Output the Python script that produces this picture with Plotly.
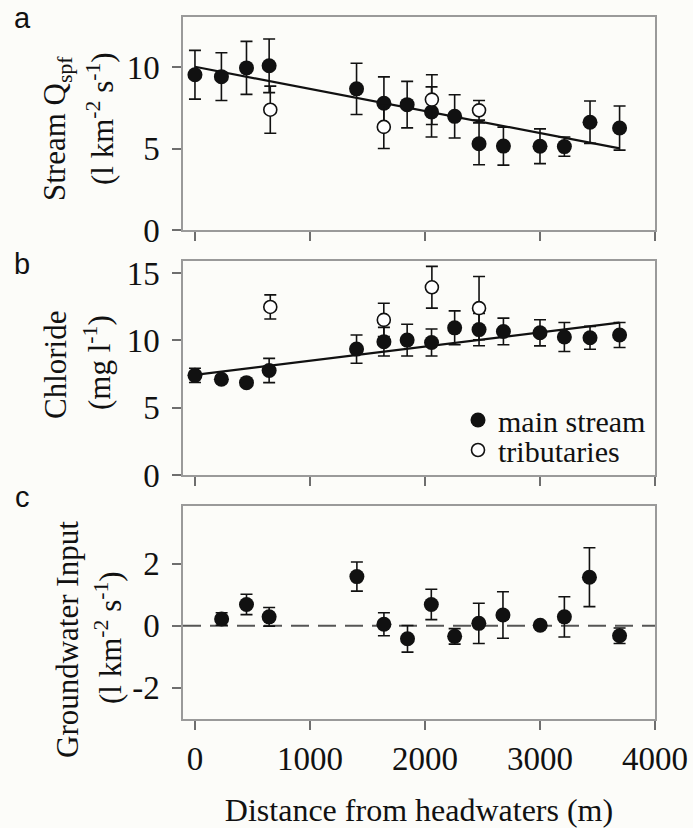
import numpy as np
import plotly.graph_objects as go

# ---------------- data ----------------
distance_main = [0, 230, 448, 645, 1405, 1643, 1845, 2057, 2258, 2470, 2682, 3000, 3212, 3435, 3692]
distance_trib = [655, 1642, 2060, 2470]
distance_gw = [232, 448, 645, 1408, 1643, 1848, 2055, 2258, 2468, 2678, 3002, 3212, 3430, 3692]

qspf_main = [9.55, 9.43, 9.97, 10.1, 8.68, 7.8, 7.71, 7.26, 6.99, 5.3, 5.16, 5.15, 5.13, 6.63, 6.27]
qspf_main_err = [1.5, 1.47, 1.63, 1.65, 1.58, 1.62, 1.43, 1.54, 1.33, 1.29, 1.17, 1.07, 0.59, 1.3, 1.36]
qspf_trib = [7.4, 6.34, 8.02, 7.36]
qspf_trib_err = [1.45, 1.33, 1.53, 0.6]

chloride_main = [7.4, 7.11, 6.86, 7.76, 9.35, 9.9, 10.02, 9.84, 10.93, 10.8, 10.66, 10.56, 10.25, 10.19, 10.4]
chloride_main_err = [0.53, 0.25, 0.2, 0.9, 1.05, 1.06, 1.18, 1.0, 1.26, 1.2, 0.99, 0.97, 1.08, 0.85, 0.93]
chloride_trib = [12.48, 11.52, 13.94, 12.39]
chloride_trib_err = [0.9, 1.24, 1.55, 2.35]

groundwater = [0.22, 0.69, 0.29, 1.59, 0.05, -0.42, 0.69, -0.34, 0.08, 0.35, 0.02, 0.29, 1.57, -0.32]
groundwater_err = [0.2, 0.33, 0.3, 0.47, 0.37, 0.43, 0.49, 0.25, 0.65, 0.75, 0.1, 0.65, 0.95, 0.25]

x_ticks = [0, 1000, 2000, 3000, 4000]
ya_ticks = [0, 5, 10]
yb_ticks = [0, 5, 10, 15]
yc_ticks = [-2, 0, 2]
yc_ticktext = ["-2", "0", "2"]

# ---------------- layout constants ----------------
W, H = 693, 828
ML, MR, MT, MB = 183, 38, 17, 109
PW, PH = W - ML - MR, H - MT - MB


def px_x(p):
    return (p - ML) / PW


def px_y(p):
    return (H - MB - p) / PH


SERIF = "Liberation Serif, Times New Roman, serif"
SANS = "Liberation Sans, Arial, sans-serif"
BLACK = "#111111"
FRAME = "#9a9a9a"
TICKC = "#6e6e6e"

fig = go.Figure()


def add_panel(xa, ya, xs, main_y, main_err, trib_y=None, trib_err=None, fit=False, legend=False):
    if fit:
        coef = np.polyfit(xs, main_y, 1)
        xf = np.array([xs[0], xs[-1]])
        fig.add_trace(go.Scatter(x=xf, y=np.polyval(coef, xf), mode="lines",
                                 line=dict(color=BLACK, width=2.2), showlegend=False,
                                 xaxis=xa, yaxis=ya, hoverinfo="skip"))
    fig.add_trace(go.Scatter(
        x=xs, y=main_y, mode="markers", name="main stream", showlegend=legend,
        legend="legend",
        marker=dict(color=BLACK, size=15, line=dict(width=0)),
        error_y=dict(type="data", array=main_err, color=BLACK, thickness=1.6, width=6),
        xaxis=xa, yaxis=ya))
    if trib_y is not None:
        fig.add_trace(go.Scatter(
            x=distance_trib, y=trib_y, mode="markers", name="tributaries", showlegend=legend,
            legend="legend2",
            marker=dict(color="white", size=13, line=dict(color=BLACK, width=1.6)),
            error_y=dict(type="data", array=trib_err, color=BLACK, thickness=1.6, width=6),
            xaxis=xa, yaxis=ya))


add_panel("x", "y", distance_main, qspf_main, qspf_main_err, qspf_trib, qspf_trib_err,
          fit=True, legend=True)
add_panel("x2", "y2", distance_main, chloride_main, chloride_main_err, chloride_trib,
          chloride_trib_err, fit=True)
add_panel("x3", "y3", distance_gw, groundwater, groundwater_err)

xaxis_common = dict(range=[-104, 4000], tickvals=x_ticks, ticks="outside", ticklen=9,
                    tickwidth=1.5, tickcolor=TICKC, showline=True, mirror=True,
                    linecolor=FRAME, linewidth=1.5, showgrid=False, zeroline=False,
                    automargin=False,
                    tickfont=dict(family=SERIF, size=33, color=BLACK))
yaxis_common = dict(ticks="outside", ticklen=9, tickwidth=1.5, tickcolor=TICKC,
                    showline=True, mirror=True, linecolor=FRAME, linewidth=1.5,
                    showgrid=False, zeroline=False, ticklabelstandoff=6, automargin=False,
                    tickfont=dict(family=SERIF, size=33, color=BLACK))

dom_a = [px_y(230), px_y(MT)]
dom_b = [px_y(475), px_y(260.5)]
dom_c = [px_y(719), px_y(506)]

legend_common = dict(xanchor="left", yanchor="top", bgcolor="rgba(0,0,0,0)",
                     font=dict(family=SERIF, size=30, color=BLACK))

fig.update_layout(
    width=W, height=H,
    margin=dict(l=ML, r=MR, t=MT, b=MB, autoexpand=False),
    paper_bgcolor="#fcfcf9", plot_bgcolor="#fcfcf9",
    xaxis=dict(xaxis_common, anchor="y", showticklabels=False),
    xaxis2=dict(xaxis_common, anchor="y2", showticklabels=False, matches="x"),
    xaxis3=dict(xaxis_common, anchor="y3", ticklabelstandoff=1,
                title=dict(text="Distance from headwaters (m)", standoff=38,
                           font=dict(family=SERIF, size=32, color=BLACK))),
    yaxis=dict(yaxis_common, domain=dom_a, range=[0, 13.1], tickvals=ya_ticks, anchor="x"),
    yaxis2=dict(yaxis_common, domain=dom_b, range=[0, 15.93], tickvals=yb_ticks, anchor="x2"),
    yaxis3=dict(yaxis_common, domain=dom_c, range=[-3.01, 3.87], tickvals=yc_ticks,
                ticktext=yc_ticktext, anchor="x3"),
    legend=dict(legend_common, x=px_x(458), y=px_y(394)),
    legend2=dict(legend_common, x=px_x(458), y=px_y(424)),
    showlegend=True,
)

# zero reference line in panel c
fig.add_shape(type="line", xref="x3 domain", yref="y3", x0=0, x1=1, y0=0, y1=0,
              line=dict(color="#555555", width=2, dash="18px,9px"), layer="below")

annotations = []
# panel letters
for letter, py in [("a", 18), ("b", 264), ("c", 497)]:
    annotations.append(dict(text=letter, x=px_x(22), y=px_y(py), xref="paper", yref="paper",
                            showarrow=False, xanchor="center", yanchor="middle",
                            font=dict(family=SANS, size=29, color=BLACK)))

# y titles (two lines each, rotated)
ytitles = [
    ("Stream Q<sub>spf</sub>", 57, 129), ("(l km<sup>-2</sup> s<sup>-1</sup>)", 100, 119),
    ("Chloride", 55, 365), ("(mg l<sup>-1</sup>)", 98, 363),
    ("Groundwater Input", 67, 640), ("(l km<sup>-2</sup> s<sup>-1</sup>)", 108, 638),
]
for txt, px, py in ytitles:
    annotations.append(dict(text=txt, x=px_x(px), y=px_y(py), xref="paper", yref="paper",
                            showarrow=False, xanchor="center", yanchor="middle", textangle=-90,
                            font=dict(family=SERIF, size=31, color=BLACK)))

fig.update_layout(annotations=annotations)

fig.write_html("out.html")
